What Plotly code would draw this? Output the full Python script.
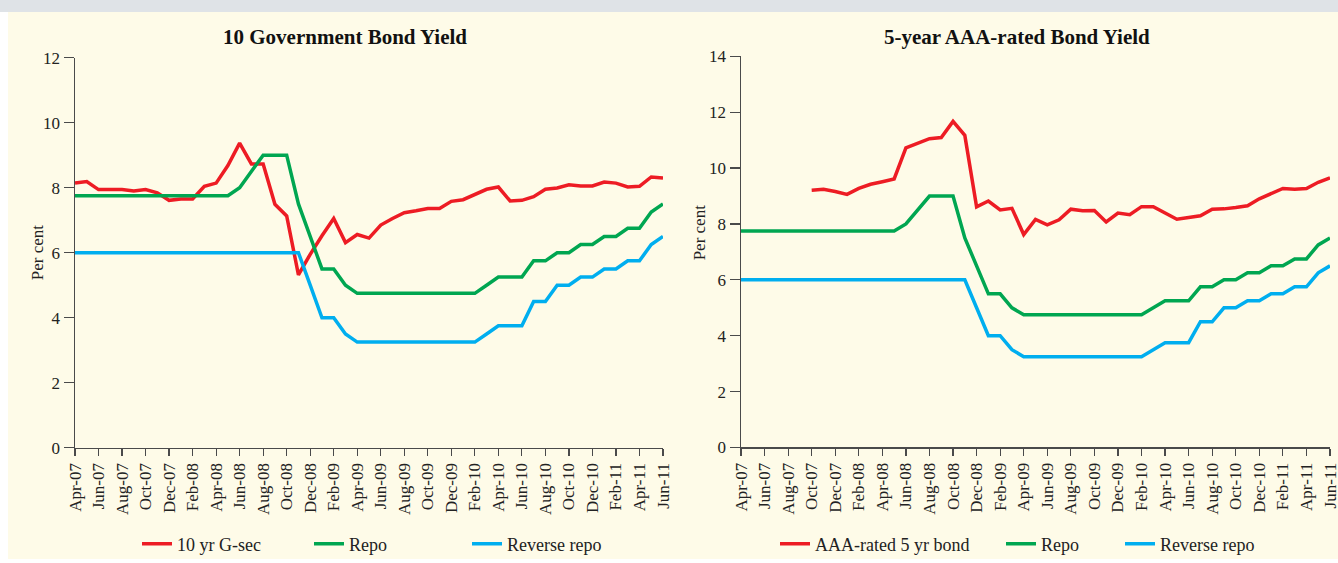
import pandas as pd
import plotly.graph_objects as go

# ---------------- data ----------------
months = list(pd.date_range("2007-04-01", periods=51, freq="MS").strftime("%b-%y"))
tick_labels = months[::2]

gsec_10yr = [8.14, 8.19, 7.94, 7.94, 7.94, 7.90, 7.94, 7.84, 7.61, 7.65,
             7.65, 8.04, 8.14, 8.68, 9.37, 8.73, 8.73, 7.49, 7.13, 5.32,
             5.95, 6.52, 7.05, 6.31, 6.56, 6.45, 6.85, 7.05, 7.23, 7.29,
             7.36, 7.36, 7.58, 7.63, 7.80, 7.95, 8.02, 7.59, 7.61, 7.72,
             7.95, 7.99, 8.09, 8.05, 8.05, 8.17, 8.14, 8.02, 8.04, 8.33,
             8.30]

aaa_5yr = [None, None, None, None, None, None,
           9.21, 9.24, 9.16, 9.06, 9.27, 9.42, 9.51, 9.61, 10.72, 10.89,
           11.05, 11.09, 11.67, 11.17, 8.61, 8.82, 8.50, 8.56, 7.62, 8.16,
           7.97, 8.15, 8.53, 8.47, 8.48, 8.07, 8.39, 8.33, 8.62, 8.62,
           8.39, 8.17, 8.23, 8.29, 8.53, 8.54, 8.59, 8.65, 8.90, 9.10,
           9.27, 9.24, 9.27, 9.49, 9.65]

repo = [7.75] * 14 + [8.0, 8.5, 9.0, 9.0, 9.0, 7.5, 6.5, 5.5, 5.5, 5.0] + \
       [4.75] * 11 + [5.0, 5.25, 5.25, 5.25, 5.75, 5.75, 6.0, 6.0, 6.25, 6.25,
                      6.5, 6.5, 6.75, 6.75, 7.25, 7.5]

reverse_repo = [6.0] * 20 + [5.0, 4.0, 4.0, 3.5] + [3.25] * 11 + \
               [3.5, 3.75, 3.75, 3.75, 4.5, 4.5, 5.0, 5.0, 5.25, 5.25,
                5.5, 5.5, 5.75, 5.75, 6.25, 6.5]

# ---------------- style ----------------
RED, GREEN, BLUE = "#ED1C24", "#00A651", "#00AEEF"
AXIS = "#4a4a4a"
CREAM = "#FEFBE8"
FONT = "Liberation Serif"
TXT = "#222222"
W, H = 1338, 563

def px_x(p):
    return p / W

def px_y(p):
    return 1 - p / H

fig = go.Figure()

series = [
    ("x", "y", gsec_10yr, RED, "10 yr G-sec", "legend", 141),
    ("x", "y", repo, GREEN, "Repo", "legend2", 313),
    ("x", "y", reverse_repo, BLUE, "Reverse repo", "legend3", 471),
    ("x2", "y2", aaa_5yr, RED, "AAA-rated 5 yr bond", "legend4", 779),
    ("x2", "y2", repo, GREEN, "Repo", "legend5", 1005),
    ("x2", "y2", reverse_repo, BLUE, "Reverse repo", "legend6", 1124),
]

legend_cfg = {}
for xa, ya, vals, col, name, lg, lx in series:
    fig.add_trace(go.Scatter(
        x=months, y=vals, mode="lines", name=name,
        line=dict(color=col, width=3.5), xaxis=xa, yaxis=ya,
        legend=lg, connectgaps=False, hoverinfo="skip"))
    legend_cfg[lg] = dict(
        x=px_x(lx - 4), y=px_y(548), xanchor="left", yanchor="middle",
        orientation="h", bgcolor="rgba(0,0,0,0)", borderwidth=0,
        font=dict(family=FONT, size=18, color=TXT))

axis_common = dict(
    type="category", showgrid=False, zeroline=False, showline=True,
    linecolor=AXIS, linewidth=1.5, ticks="outside", ticklen=7,
    tickwidth=1.2, tickcolor=AXIS, tickangle=-90,
    tickvals=tick_labels, ticktext=tick_labels, range=[0, 50],
    tickfont=dict(family=FONT, size=17, color=TXT), automargin=False,
    fixedrange=True)

yaxis_common = dict(
    showgrid=False, zeroline=False, showline=True, linecolor=AXIS,
    linewidth=1.5, ticks="outside", ticklen=10, tickwidth=1.2,
    tickcolor=AXIS, dtick=2, tick0=0,
    tickfont=dict(family=FONT, size=17, color=TXT), automargin=False,
    fixedrange=True)

fig.update_layout(
    width=W, height=H,
    margin=dict(l=0, r=0, t=0, b=0),
    template="none",
    paper_bgcolor="white", plot_bgcolor="rgba(0,0,0,0)",
    showlegend=True,
    xaxis=dict(domain=[px_x(75), px_x(663)], anchor="y", **axis_common),
    yaxis=dict(domain=[px_y(451), px_y(58)], anchor="x", range=[0, 12],
               **yaxis_common),
    xaxis2=dict(domain=[px_x(741), px_x(1330)], anchor="y2", **axis_common),
    yaxis2=dict(domain=[px_y(450.7), px_y(56.7)], anchor="x2", range=[0, 14],
                **yaxis_common),
    **legend_cfg,
    shapes=[
        dict(type="rect", xref="paper", yref="paper", x0=0, x1=1,
             y0=px_y(12), y1=1, fillcolor="#DFE3E7", line_width=0,
             layer="below"),
        dict(type="rect", xref="paper", yref="paper", x0=px_x(8), x1=1,
             y0=0, y1=px_y(12), fillcolor=CREAM, line_width=0,
             layer="below"),
    ],
    annotations=[
        dict(text="<b>10 Government Bond Yield</b>", x=px_x(345), y=px_y(37),
             xref="paper", yref="paper", showarrow=False,
             xanchor="center", yanchor="middle",
             font=dict(family=FONT, size=21, color="#111111")),
        dict(text="<b>5-year AAA-rated Bond Yield</b>", x=px_x(1017),
             y=px_y(37), xref="paper", yref="paper", showarrow=False,
             xanchor="center", yanchor="middle",
             font=dict(family=FONT, size=21, color="#111111")),
        dict(text="Per cent", x=px_x(37), y=px_y(254), xref="paper",
             yref="paper", showarrow=False, textangle=-90,
             xanchor="center", yanchor="middle",
             font=dict(family=FONT, size=17, color=TXT)),
        dict(text="Per cent", x=px_x(699), y=px_y(234), xref="paper",
             yref="paper", showarrow=False, textangle=-90,
             xanchor="center", yanchor="middle",
             font=dict(family=FONT, size=17, color=TXT)),
    ],
)

fig.write_html(
    "out.html",
    config={"displayModeBar": False, "staticPlot": True},
    post_script="document.body.style.margin='0';document.body.style.padding='0';",
)
